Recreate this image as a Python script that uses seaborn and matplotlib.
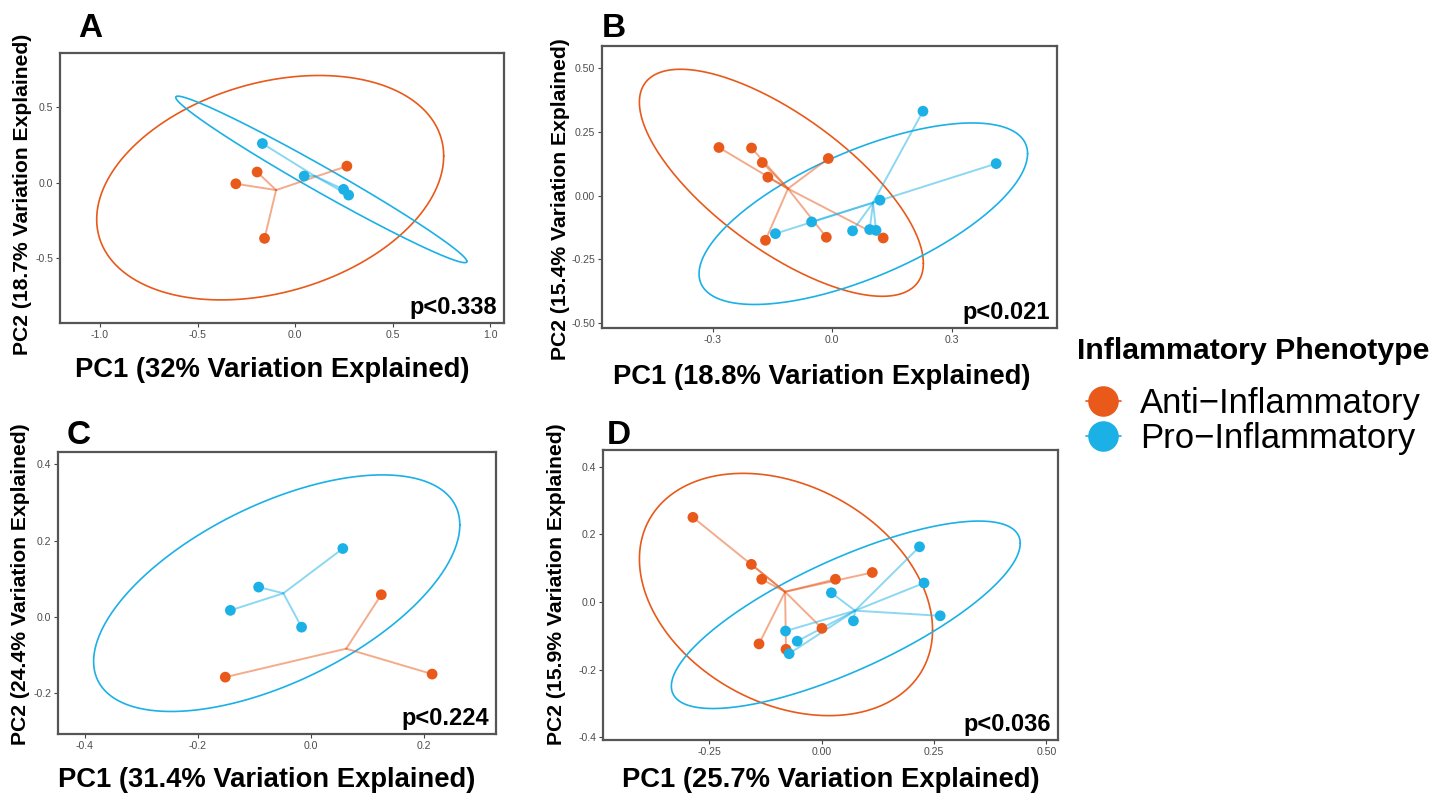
import numpy as np
import pandas as pd
import matplotlib
matplotlib.use('Agg')
import matplotlib.pyplot as plt
from matplotlib.lines import Line2D
import seaborn as sns

sns.set_style('white')
plt.rcParams['font.family'] = ['Liberation Sans', 'DejaVu Sans']
plt.rcParams['text.color'] = 'black'

groups = ['Anti-Inflammatory', 'Pro-Inflammatory']
palette = {'Anti-Inflammatory': '#E8591A', 'Pro-Inflammatory': '#1BB0E6'}

# panel A
a_anti_x = [-0.304, -0.195, -0.157, 0.265]
a_anti_y = [-0.007, 0.071, -0.369, 0.110]
a_pro_x = [-0.168, 0.046, 0.248, 0.274]
a_pro_y = [0.260, 0.044, -0.044, -0.082]
# panel B
b_anti_x = [-0.285, -0.203, -0.176, -0.162, -0.010, -0.168, -0.015, 0.128]
b_anti_y = [0.188, 0.186, 0.129, 0.072, 0.145, -0.175, -0.163, -0.166]
b_pro_x = [-0.143, -0.052, 0.051, 0.094, 0.110, 0.120, 0.228, 0.412]
b_pro_y = [-0.149, -0.103, -0.138, -0.133, -0.136, -0.018, 0.330, 0.125]
# panel C
c_anti_x = [0.125, -0.151, 0.215]
c_anti_y = [0.058, -0.158, -0.150]
c_pro_x = [0.057, -0.092, -0.142, -0.016]
c_pro_y = [0.179, 0.078, 0.017, -0.027]
# panel D
d_anti_x = [-0.286, -0.156, -0.133, 0.031, 0.113, 0.001, -0.139, -0.079]
d_anti_y = [0.250, 0.111, 0.067, 0.067, 0.087, -0.078, -0.124, -0.140]
d_pro_x = [0.218, 0.228, 0.264, 0.022, 0.071, -0.080, -0.054, -0.072]
d_pro_y = [0.163, 0.056, -0.041, 0.027, -0.056, -0.086, -0.116, -0.153]

# ellipses: centre x, centre y, half-width x, half-height y, cos(phase)
a_ell = {'Anti-Inflammatory': (-0.128, -0.033, 0.889, 0.744, 0.282),
         'Pro-Inflammatory': (0.134, 0.022, 0.746, 0.552, -0.985)}
b_ell = {'Anti-Inflammatory': (-0.128, 0.050, 0.357, 0.444, -0.71),
         'Pro-Inflammatory': (0.078, -0.071, 0.413, 0.355, 0.662)}
c_ell = {'Pro-Inflammatory': (-0.060, 0.062, 0.324, 0.310, 0.577)}
d_ell = {'Anti-Inflammatory': (-0.079, 0.022, 0.326, 0.358, -0.293),
         'Pro-Inflammatory': (0.054, -0.038, 0.388, 0.277, 0.762)}

pc1_pct = ['32%', '18.8%', '31.4%', '25.7%']
pc2_pct = ['18.7%', '15.4%', '24.4%', '15.9%']
pvals = ['p<0.338', 'p<0.021', 'p<0.224', 'p<0.036']
letters = ['A', 'B', 'C', 'D']

xticks = [[-1.0, -0.5, 0.0, 0.5, 1.0], [-0.3, 0.0, 0.3], [-0.4, -0.2, 0.0, 0.2], [-0.25, 0.0, 0.25, 0.5]]
yticks = [[-0.5, 0.0, 0.5], [-0.5, -0.25, 0.0, 0.25, 0.5], [-0.2, 0.0, 0.2, 0.4], [-0.4, -0.2, 0.0, 0.2, 0.4]]
xfmt = ['{:.1f}', '{:.1f}', '{:.1f}', '{:.2f}']
yfmt = ['{:.1f}', '{:.2f}', '{:.1f}', '{:.1f}']
xlims = [(-1.205, 1.07), (-0.579, 0.565), (-0.447, 0.328), (-0.486, 0.526)]
ylims = [(-0.93, 0.86), (-0.518, 0.585), (-0.307, 0.432), (-0.408, 0.449)]

def make_df(ax_, ay_, px_, py_):
    return pd.concat([
        pd.DataFrame({'PC1': ax_, 'PC2': ay_, 'group': groups[0]}),
        pd.DataFrame({'PC1': px_, 'PC2': py_, 'group': groups[1]})])

frames = [make_df(a_anti_x, a_anti_y, a_pro_x, a_pro_y),
          make_df(b_anti_x, b_anti_y, b_pro_x, b_pro_y),
          make_df(c_anti_x, c_anti_y, c_pro_x, c_pro_y),
          make_df(d_anti_x, d_anti_y, d_pro_x, d_pro_y)]
ellipses = [a_ell, b_ell, c_ell, d_ell]

W, H = 1451, 795
fig = plt.figure(figsize=(W / 100, H / 100), dpi=100)

# axes boxes in pixels: left, top, right, bottom
boxes = [(60, 53, 504, 323), (602, 46, 1057, 328), (58, 452, 496, 734), (603, 450, 1058, 740)]
xlab_pos = [(272, 370), (822, 377), (267, 780), (831, 780)]
ylab_pos = [(23, 194), (560, 199), (21, 584), (557, 584)]
letter_pos = [(78, 13), (602, 13), (67, 420), (607, 420)]

tt = np.linspace(0, 2 * np.pi, 300)

for i, df in enumerate(frames):
    l, t, r, b = boxes[i]
    ax = fig.add_axes([l / W, 1 - b / H, (r - l) / W, (b - t) / H])

    for g in groups:
        sub = df[df['group'] == g]
        cx, cy = sub['PC1'].mean(), sub['PC2'].mean()
        for x, y in zip(sub['PC1'], sub['PC2']):
            ax.plot([cx, x], [cy, y], color=palette[g], alpha=0.5, lw=1.4, zorder=2)
        if g in ellipses[i]:
            ex, ey, hx, hy, cphi = ellipses[i][g]
            phi = np.arccos(cphi)
            ax.plot(ex + hx * np.cos(tt), ey + hy * np.cos(tt - phi),
                    color=palette[g], lw=1.2, zorder=1)

    sns.scatterplot(data=df, x='PC1', y='PC2', hue='group', palette=palette,
                    s=60, edgecolor='none', legend=False, ax=ax, zorder=3)

    ax.set_xlim(xlims[i])
    ax.set_ylim(ylims[i])
    ax.set_xticks(xticks[i])
    ax.set_yticks(yticks[i])
    ax.set_xticklabels([xfmt[i].format(v) for v in xticks[i]])
    ax.set_yticklabels([yfmt[i].format(v) for v in yticks[i]])
    ax.tick_params(axis='both', direction='out', length=3, width=0.8, color='#444444',
                   labelsize=7.6, labelcolor='#4d4d4d', pad=2, left=True, bottom=True)
    for sp in ax.spines.values():
        sp.set_color('#555555')
        sp.set_linewidth(1.6)
    ax.set_xlabel('')
    ax.set_ylabel('')

    ax.text(0.985, 0.015, pvals[i], transform=ax.transAxes, ha='right', va='bottom',
            fontsize=17, fontweight='bold')

    fig.text(xlab_pos[i][0] / W, 1 - xlab_pos[i][1] / H,
             f'PC1 ({pc1_pct[i]} Variation Explained)',
             ha='center', va='center', fontsize=19.7, fontweight='bold')
    fig.text(ylab_pos[i][0] / W, 1 - ylab_pos[i][1] / H,
             f'PC2 ({pc2_pct[i]} Variation Explained)', rotation=90,
             ha='center', va='center', fontsize=15.2, fontweight='bold')
    fig.text(letter_pos[i][0] / W, 1 - letter_pos[i][1] / H, letters[i],
             ha='left', va='top', fontsize=24, fontweight='bold')

fig.text(1077 / W, 1 - 351 / H, 'Inflammatory Phenotype', ha='left', va='center',
         fontsize=21.8, fontweight='bold')
handles = [Line2D([0], [0], color=palette[g], marker='o', markersize=21, lw=1.2)
           for g in groups]
fig.legend(handles, ['Anti\u2212Inflammatory', 'Pro\u2212Inflammatory'],
           loc='center left', bbox_to_anchor=(1086 / W, 1 - 421 / H), frameon=False,
           fontsize=25, handlelength=1.0, handletextpad=0.55, borderpad=0,
           borderaxespad=0, labelspacing=0.05, numpoints=1)

fig.savefig('out.png', dpi=100)
